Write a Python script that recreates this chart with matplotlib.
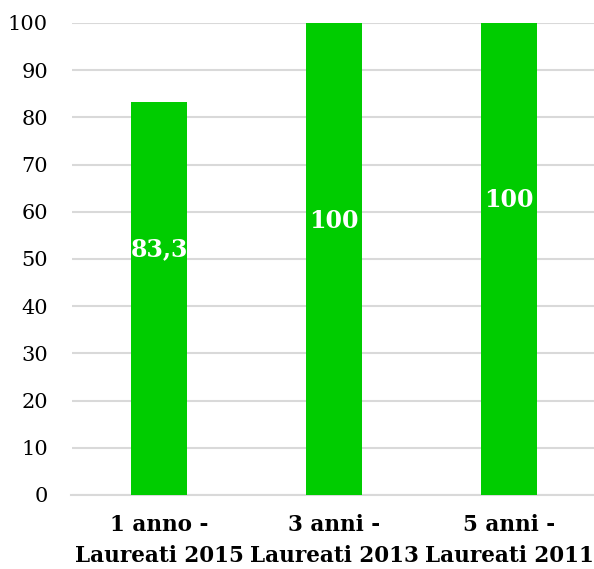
import matplotlib
matplotlib.use("Agg")
import matplotlib.pyplot as plt

categories = ["1 anno -\nLaureati 2015", "3 anni -\nLaureati 2013", "5 anni -\nLaureati 2011"]
values = [83.3, 100, 100]
value_labels = ["83,3", "100", "100"]
label_y = [52, 58, 62.5]
yticks = [0, 10, 20, 30, 40, 50, 60, 70, 80, 90, 100]

fig = plt.figure(figsize=(5.94, 5.69), dpi=100)
ax = fig.add_axes([71.5/594, 74/569, 525/594, 472/569])
x = list(range(len(categories)))
ax.bar(x, values, width=0.32, color="#00CC00", zorder=3)
for xi, lab, ly in zip(x, value_labels, label_y):
    ax.text(xi, ly, lab, ha="center", va="center", color="white",
            fontsize=17, fontweight="bold", family="DejaVu Serif", zorder=4)
ax.set_xlim(-0.5, 2.5)
ax.set_ylim(0, 100)
ax.set_yticks(yticks)
ax.set_yticklabels([str(t) for t in yticks], family="DejaVu Serif", fontsize=15)
ax.set_xticks(x)
ax.set_xticklabels(categories, family="DejaVu Serif", fontsize=15.5, fontweight="bold", linespacing=1.5)
ax.grid(axis="y", color="#D9D9D9", linewidth=1.5, zorder=0)
ax.tick_params(axis="y", length=0, pad=17)
ax.tick_params(axis="x", length=0, pad=14)
for s in ["top", "right", "left"]:
    ax.spines[s].set_visible(False)
ax.spines["bottom"].set_color("#D9D9D9")
ax.spines["bottom"].set_linewidth(1.5)
fig.savefig("out.png", dpi=100)
